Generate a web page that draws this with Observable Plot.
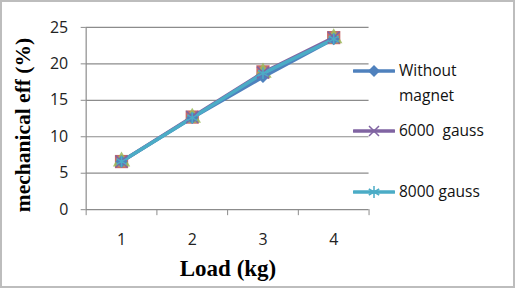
<!DOCTYPE html>
<html>
<head>
<meta charset="utf-8">
<script src="https://cdn.jsdelivr.net/npm/d3@7"></script>
<script src="https://cdn.jsdelivr.net/npm/@observablehq/plot@0.6"></script>
<style>
  html, body { margin: 0; padding: 0; background: #fff; }
  #frame { position: relative; width: 511px; height: 284px; border: 2px solid #bdbdbd; overflow: hidden; }
  #chart { position: absolute; left: -2px; top: -2px; }
  .axlab { position: absolute; font-family: "Liberation Serif", "DejaVu Serif", serif; font-weight: bold; color: #000; white-space: nowrap; }
  #legend { position: absolute; left: 351px; top: 56px; font-family: "Open Sans", "Liberation Sans", sans-serif; font-size: 15.5px; color: #111; }
  .item { position: absolute; left: 0; display: flex; align-items: flex-start; white-space: nowrap; }
  .item svg { flex: none; }
  .item span { margin-left: 4px; line-height: 25px; }
</style>
</head>
<body>
<div id="frame">
  <div id="chart"></div>
  <div class="axlab" style="font-size:21.5px;left:21px;top:123px;transform:translate(-50%,-50%) rotate(-90deg);">mechanical eff (%)</div>
  <div class="axlab" style="font-size:23px;left:226px;top:267px;transform:translate(-50%,-50%);">Load (kg)</div>
  <div id="legend"></div>
</div>
<script>
// Load in kg on the category axis
const loads = [1, 2, 3, 4];

// Mechanical efficiency (%) for each configuration
const withoutMagnet = [6.6, 12.6, 18.2, 23.4];
const gauss6000 = [6.6, 12.7, 18.8, 23.6];
const gauss8000 = [6.6, 12.6, 18.7, 23.4];
// Two further series are drawn only as markers (square, triangle)
const seriesA = [6.6, 12.7, 18.9, 23.6];
const seriesB = [6.6, 12.6, 18.8, 23.5];

const yTicks = [0, 5, 10, 15, 20, 25];
const xTickLabels = ["1", "2", "3", "4"];

const series = [
  {name: "Series A", values: seriesA, color: "#C0504D", symbol: "square", line: false, legend: false},
  {name: "Series B", values: seriesB, color: "#9BBB59", symbol: "triangle", line: false, legend: false},
  {name: "Without magnet", values: withoutMagnet, color: "#4F81BD", symbol: "diamond2", line: true, legend: true},
  {name: "6000  gauss", values: gauss6000, color: "#8064A2", symbol: "times", line: true, legend: true},
  {name: "8000 gauss", values: gauss8000, color: "#4BACC6", symbol: "asterisk", line: true, legend: true}
];

const rows = series.flatMap((s, i) => loads.map((x, j) => ({x, y: s.values[j], s: s.name, order: i})));
const tickFont = "Open Sans, Liberation Sans, sans-serif";

const marks = [
  Plot.ruleY(yTicks.filter(d => d > 0), {stroke: "#8c8c8c", strokeWidth: 1.2}),
  Plot.axisY({ticks: yTicks, tickSize: 5, tickPadding: 13, stroke: "#8c8c8c", color: "#222", fontSize: 16, fontFamily: tickFont, label: null}),
  Plot.axisX({ticks: [0.5, 1.5, 2.5, 3.5, 4.5], tickSize: 6, tickFormat: () => "", stroke: "#8c8c8c", label: null}),
  Plot.axisX({ticks: loads, tickSize: 0, tickPadding: 24, tickFormat: (d, i) => xTickLabels[i], color: "#222", fontSize: 16, fontFamily: tickFont, label: null}),
  Plot.ruleX([0.5], {stroke: "#8c8c8c", strokeWidth: 1.2}),
  Plot.ruleY([0], {stroke: "#8c8c8c", strokeWidth: 1.2})
];

// Markers of the marker-only series sit underneath the lines
for (const s of series.filter(s => !s.line)) {
  const data = rows.filter(d => d.s === s.name);
  marks.push(Plot.dot(data, {
    x: "x", y: "y", symbol: () => s.symbol,
    r: s.symbol === "square" ? 7.5 : 6.5,
    fill: s.color, fillOpacity: 0.85, stroke: "none"
  }));
}
for (const s of series.filter(s => s.line)) {
  const data = rows.filter(d => d.s === s.name);
  marks.push(Plot.line(data, {x: "x", y: "y", stroke: s.color, strokeWidth: 3.5}));
}
for (const s of series.filter(s => s.line)) {
  const data = rows.filter(d => d.s === s.name);
  const filled = s.symbol === "diamond2";
  marks.push(Plot.dot(data, {
    x: "x", y: "y", symbol: () => s.symbol,
    r: 5.5,
    fill: filled ? s.color : "none",
    stroke: s.color, strokeWidth: filled ? 0 : 1.5
  }));
}

const chart = Plot.plot({
  width: 515,
  height: 288,
  marginLeft: 86,
  marginRight: 145,
  marginTop: 27,
  marginBottom: 78,
  x: {domain: [0.5, 4.5]},
  y: {domain: [0, 25]},
  symbol: {type: "identity"},
  style: {background: "transparent", overflow: "visible"},
  marks
});
document.getElementById("chart").appendChild(chart);

// Legend to the right of the plot area
const legend = document.getElementById("legend");
const legendTops = [0, 60, 121];
series.filter(s => s.legend).forEach((s, i) => {
  const item = document.createElement("div");
  item.className = "item";
  item.style.top = legendTops[i] + "px";
  const sw = d3.create("svg").attr("width", 42).attr("height", 25);
  sw.append("line").attr("x1", 1).attr("x2", 41).attr("y1", 13).attr("y2", 13)
    .attr("stroke", s.color).attr("stroke-width", 3.5).attr("stroke-linecap", "round");
  const c = sw.append("g").attr("transform", "translate(21,13)");
  if (s.symbol === "diamond2") {
    c.append("path").attr("d", "M0,-6L6,0L0,6L-6,0Z").attr("fill", s.color);
  } else if (s.symbol === "times") {
    c.append("path").attr("d", "M-5,-5L5,5M-5,5L5,-5").attr("stroke", s.color).attr("stroke-width", 1.5);
  } else {
    c.append("path").attr("d", "M0,-6V6M-5.2,-3L5.2,3M-5.2,3L5.2,-3").attr("stroke", s.color).attr("stroke-width", 1.5);
  }
  item.appendChild(sw.node());
  const label = document.createElement("span");
  label.innerHTML = s.name === "Without magnet" ? "Without<br>magnet" : s.name.replace(/ /g, "&nbsp;");
  item.appendChild(label);
  legend.appendChild(item);
});
</script>
</body>
</html>
